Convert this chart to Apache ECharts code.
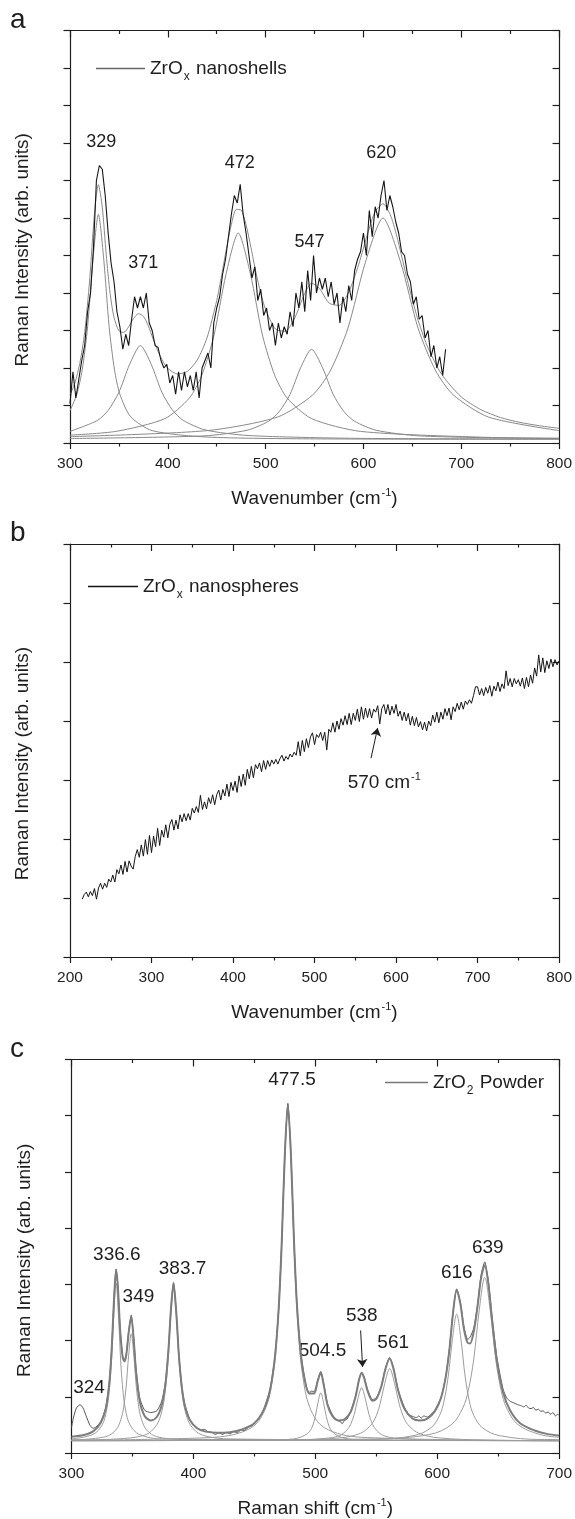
<!DOCTYPE html>
<html><head><meta charset="utf-8">
<script src="https://cdn.jsdelivr.net/npm/echarts@6/dist/echarts.min.js"></script>
<style>html,body{margin:0;padding:0;background:#fff}#chart{width:575px;height:1519px}</style>
</head><body><div id="chart"></div>
<script>
// ---------- Panel a data (wavenumber, intensity in tick units) ----------
const aRaw = [[300,1.05],[303,1.9],[306,1.2],[309,1.7],[312,2.2],[315,2.6],[318,3.5],[321,4.0],[324,5.2],[327,7.0],[330,7.4],[333,7.3],[336,6.6],[339,5.6],[342,4.8],[345,4.3],[348,3.5],[351,3.1],[354,2.5],[357,2.9],[360,2.6],[363,3.3],[366,3.9],[369,3.6],[372,3.9],[375,3.6],[378,4.0],[381,3.2],[384,3.0],[387,2.6],[390,2.55],[393,2.2],[396,2.0],[399,2.1],[402,1.6],[405,1.8],[408,1.3],[411,1.9],[414,1.4],[417,1.9],[420,1.5],[423,1.8],[426,1.4],[429,1.9],[432,1.2],[435,2.0],[438,2.2],[441,2.4],[444,2.0],[447,3.2],[450,3.6],[453,3.9],[456,4.5],[459,4.9],[462,5.5],[465,6.1],[468,6.6],[471,6.4],[474,6.9],[477,6.1],[480,5.6],[483,5.0],[486,4.4],[489,4.7],[492,3.8],[495,4.1],[498,3.4],[501,3.6],[504,3.0],[507,3.2],[510,2.6],[513,3.2],[516,2.8],[519,3.1],[522,2.9],[525,3.5],[528,3.1],[531,4.0],[534,3.6],[537,4.3],[540,3.5],[543,4.6],[546,3.8],[549,5.0],[552,4.0],[555,4.4],[558,4.1],[561,4.4],[564,3.9],[567,4.3],[570,3.7],[573,4.0],[576,3.2],[579,3.9],[582,3.5],[585,4.2],[588,3.8],[591,4.6],[594,4.9],[597,5.1],[600,5.6],[603,5.0],[606,6.2],[609,5.5],[612,6.3],[615,6.0],[618,6.6],[621,7.0],[624,6.2],[627,6.6],[630,6.3],[633,5.9],[636,5.6],[639,5.1],[642,5.0],[645,4.5],[648,4.3],[651,3.7],[654,3.9],[657,3.3],[660,3.4],[663,2.8],[666,3.0],[669,2.3],[672,2.6],[675,2.0],[678,2.3],[681,1.8],[684,2.5]];
const aFit = [[300,1.28],[305,1.6],[310,2.12],[315,2.95],[320,4.32],[325,6.11],[329,6.89],[333,6.29],[337,5.03],[341,3.99],[345,3.35],[350,2.99],[355,2.95],[360,3.1],[365,3.32],[370,3.45],[375,3.38],[380,3.13],[385,2.77],[390,2.44],[395,2.18],[400,1.99],[410,1.84],[420,1.91],[430,2.21],[440,2.8],[450,3.8],[455,4.47],[460,5.19],[465,5.83],[470,6.23],[475,6.21],[480,5.82],[485,5.21],[490,4.56],[495,4.0],[500,3.56],[510,3.04],[520,2.98],[530,3.35],[540,3.99],[547,4.26],[555,4.12],[565,3.73],[575,3.67],[585,4.03],[595,4.75],[605,5.65],[612,6.17],[620,6.38],[628,6.05],[635,5.42],[645,4.33],[655,3.35],[665,2.6],[680,1.83],[700,1.23],[720,0.89],[740,0.68],[760,0.55],[780,0.46],[800,0.39]];
const aPeak329 = [[300,0.86],[307,1.3],[312.5,1.95],[318,3.1],[323.5,4.9],[329,6.1],[334.5,4.9],[340,3.1],[345.5,1.95],[351,1.3],[362,0.7],[384,0.33],[439,0.16],[550,0.11],[800,0.1]];
const aPeak371 = [[300,0.31],[328,0.6],[339,0.87],[350,1.35],[361,2.1],[372,2.6],[383,2.1],[394,1.35],[405,0.87],[416,0.6],[438,0.35],[482,0.2],[592,0.125],[800,0.107]];
const aPeak472 = [[300,0.21],[347,0.31],[397,0.65],[422,1.2],[434.5,1.79],[447,2.85],[459.5,4.5],[472,5.6],[484.5,4.5],[497,2.85],[509.5,1.79],[522,1.2],[547,0.65],[597,0.31],[722,0.154],[800,0.13]];
const aPeak547 = [[300,0.12],[437,0.19],[481,0.34],[503,0.58],[514,0.84],[525,1.3],[536,2.02],[547,2.5],[558,2.02],[569,1.3],[580,0.84],[591,0.58],[613,0.34],[657,0.19],[767,0.124],[800,0.118]];
const aPeak620 = [[300,0.17],[440,0.33],[512,0.69],[548,1.28],[566,1.92],[584,3.05],[602,4.82],[620,6.0],[638,4.82],[656,3.05],[674,1.92],[692,1.28],[728,0.69],[800,0.33]];
const aPeakLabels = ['329','371','472','547','620'];

// ---------- Panel b data ----------
const bRaw = [[215,0.98],[217.5,1.06],[220,1.10],[222.5,1.02],[225,1.11],[227.5,1.04],[230,1.16],[232.5,0.98],[235,1.17],[237.5,1.25],[240,1.15],[242.5,1.25],[245,1.18],[247.5,1.32],[250,1.27],[252.5,1.39],[255,1.27],[257.5,1.48],[260,1.41],[262.5,1.56],[265,1.40],[267.5,1.62],[270,1.44],[272.5,1.63],[275,1.54],[277.5,1.49],[280,1.70],[282.5,1.82],[285,1.69],[287.5,1.90],[290,1.71],[292.5,1.99],[295,1.74],[297.5,2.06],[300,1.77],[302.5,2.05],[305,1.87],[307.5,2.18],[310,1.89],[312.5,2.15],[315,2.03],[317.5,2.24],[320,2.02],[322.5,2.25],[325,2.33],[327.5,2.15],[330,2.32],[332.5,2.17],[335,2.41],[337.5,2.29],[340,2.43],[342.5,2.31],[345,2.43],[347.5,2.32],[350,2.52],[352.5,2.44],[355,2.55],[357.5,2.45],[360,2.74],[362.5,2.50],[365,2.63],[367.5,2.51],[370,2.70],[372.5,2.60],[375,2.75],[377.5,2.58],[380,2.75],[382.5,2.83],[385,2.66],[387.5,2.84],[390,2.73],[392.5,2.93],[395,2.72],[397.5,2.96],[400,2.82],[402.5,2.98],[405,2.79],[407.5,3.07],[410,2.89],[412.5,3.10],[415,2.91],[417.5,3.18],[420,3.02],[422.5,3.23],[425,3.04],[427.5,3.26],[430,3.19],[432.5,3.29],[435,3.14],[437.5,3.33],[440,3.18],[442.5,3.33],[445,3.23],[447.5,3.34],[450,3.27],[452.5,3.35],[455,3.27],[457.5,3.36],[460,3.42],[462.5,3.32],[465,3.40],[467.5,3.35],[470,3.44],[472.5,3.39],[475,3.47],[477.5,3.42],[480,3.65],[482.5,3.41],[485,3.67],[487.5,3.48],[490,3.70],[492.5,3.55],[495,3.73],[497.5,3.80],[500,3.60],[502.5,3.77],[505,3.72],[507.5,3.81],[510,3.67],[512.5,3.81],[515,3.51],[517.5,3.86],[520,3.81],[522.5,3.97],[525,3.81],[527.5,4.00],[530,3.86],[532.5,4.04],[535,3.93],[537.5,4.09],[540,3.94],[542.5,4.13],[545,3.94],[547.5,4.13],[550,4.01],[552.5,4.20],[555,3.99],[557.5,4.24],[560,4.03],[562.5,4.22],[565,4.06],[567.5,4.21],[570,4.05],[572.5,4.20],[575,4.15],[577.5,4.26],[580,3.95],[582.5,4.21],[585,4.28],[587.5,4.12],[590,4.28],[592.5,4.10],[595,4.25],[597.5,4.13],[600,4.28],[602.5,4.08],[605,4.17],[607.5,4.01],[610,4.15],[612.5,4.00],[615,4.13],[617.5,3.93],[620,4.08],[622.5,3.92],[625,4.06],[627.5,3.90],[630,3.99],[632.5,3.85],[635,3.98],[637.5,3.83],[640,4.00],[642.5,3.92],[645,4.10],[647.5,3.98],[650,4.15],[652.5,3.97],[655,4.15],[657.5,4.03],[660,4.21],[662.5,4.09],[665,4.22],[667.5,4.02],[670,4.24],[672.5,4.16],[675,4.30],[677.5,4.19],[680,4.32],[682.5,4.20],[685,4.34],[687.5,4.28],[690,4.36],[692.5,4.30],[695,4.43],[697.5,4.58],[700,4.58],[702.5,4.44],[705,4.55],[707.5,4.43],[710,4.57],[712.5,4.47],[715,4.60],[717.5,4.42],[720,4.59],[722.5,4.51],[725,4.66],[727.5,4.50],[730,4.63],[732.5,4.55],[735,4.85],[737.5,4.60],[740,4.72],[742.5,4.58],[745,4.72],[747.5,4.63],[750,4.70],[752.5,4.59],[755,4.73],[757.5,4.55],[760,4.74],[762.5,4.58],[765,4.78],[767.5,4.64],[770,4.90],[772.5,4.76],[775,5.12],[777.5,4.83],[780,5.07],[782.5,4.82],[785,5.02],[787.5,4.89],[790,5.05],[792.5,4.92],[795,5.04],[797.5,4.95],[800,5.02]];

// ---------- Panel c data ----------
const cRaw = [[300,0.45],[301.5,0.62],[304,0.80],[307,0.86],[309.5,0.80],[312,0.66],[315,0.50],[317.5,0.44],[320,0.46],[324,0.56],[328,0.80],[331,1.26],[333,1.88],[335,2.80],[336.6,3.27],[338,2.98],[340,2.17],[342,1.72],[343.5,1.66],[345,1.78],[347,2.18],[349,2.45],[351,2.05],[353,1.48],[356,0.98],[360,0.76],[365,0.72],[370,0.75],[374,0.92],[377,1.25],[379.5,1.84],[381.5,2.55],[383.7,3.03],[386,2.50],[388,1.79],[390.5,1.19],[393,0.86],[397,0.60],[400,0.50],[403,0.45],[406,0.41],[409,0.42],[412,0.38],[415,0.37],[418,0.33],[421,0.36],[424,0.33],[427,0.37],[430,0.34],[433,0.38],[436,0.36],[439,0.41],[442,0.40],[445,0.46],[448,0.48],[451,0.55],[454,0.62],[458,0.80],[463,1.15],[467,1.74],[470,2.60],[472.5,3.78],[475,5.33],[477.5,6.22],[480,5.34],[482.5,3.80],[485,2.63],[488,1.80],[491,1.36],[493,1.16],[495,1.08],[497,1.10],[499,1.09],[502,1.30],[504.5,1.45],[507,1.22],[510,0.88],[514,0.68],[517,0.60],[519,0.57],[521,0.55],[522,0.52],[524,0.58],[526,0.60],[529,0.74],[533,1.01],[536,1.32],[538,1.44],[540,1.36],[543,1.12],[547,0.95],[550,0.98],[554,1.18],[557.5,1.50],[561,1.70],[564,1.53],[568,1.12],[573,0.82],[577,0.68],[580,0.65],[583,0.63],[585,0.66],[587,0.62],[589,0.66],[592,0.64],[595,0.69],[598,0.76],[603,0.98],[607,1.36],[610,1.85],[613,2.50],[616,2.92],[619,2.68],[622,2.24],[625,2.02],[627,2.06],[630,2.22],[633,2.62],[636,3.16],[639,3.40],[642,3.06],[645,2.42],[649,1.70],[654,1.14],[657,0.98],[660,0.92],[663,0.89],[666,0.86],[669,0.84],[671,0.82],[673,0.85],[675,0.80],[677,0.79],[679,0.81],[681,0.76],[683,0.78],[685,0.74],[687,0.75],[689,0.71],[691,0.73],[693,0.69],[695,0.72],[697,0.66],[699,0.69],[700,0.67]];
const cFit = [[300,0.29],[310,0.32],[318,0.39],[324,0.54],[328,0.78],[331,1.24],[333,1.86],[335,2.79],[336.6,3.26],[338,2.97],[340,2.16],[342,1.70],[343.5,1.63],[345,1.75],[347,2.16],[349,2.43],[351,2.02],[353,1.44],[356,0.92],[360,0.66],[365,0.58],[370,0.64],[374,0.85],[377,1.21],[379.5,1.82],[381.5,2.53],[383.7,3.02],[386,2.49],[388,1.77],[390.5,1.17],[393,0.84],[397,0.59],[403,0.44],[410,0.38],[420,0.36],[430,0.37],[440,0.42],[450,0.53],[458,0.78],[463,1.13],[467,1.73],[470,2.58],[472.5,3.76],[475,5.31],[477.5,6.19],[480,5.32],[482.5,3.79],[485,2.62],[488,1.79],[491,1.34],[495,1.06],[499,1.06],[502,1.28],[504.5,1.43],[507,1.20],[510,0.86],[514,0.66],[519,0.58],[524,0.60],[529,0.73],[533,1.00],[536,1.31],[538,1.42],[540,1.34],[543,1.10],[547,0.93],[550,0.96],[554,1.17],[557.5,1.49],[561,1.68],[564,1.51],[568,1.11],[573,0.79],[580,0.61],[586,0.58],[592,0.61],[598,0.74],[603,0.97],[607,1.35],[610,1.83],[613,2.49],[616,2.90],[619,2.66],[622,2.20],[625,1.96],[627,1.95],[630,2.16],[633,2.59],[636,3.11],[639,3.34],[642,3.01],[645,2.38],[649,1.64],[654,1.08],[660,0.75],[668,0.53],[680,0.40],[690,0.34],[700,0.31]];
const cPeak336 = [[300,0.25],[317.6,0.33],[325.2,0.5],[329,0.78],[330.9,1.08],[332.8,1.62],[334.7,2.46],[336.6,3.02],[338.5,2.46],[340.4,1.62],[342.3,1.08],[344.2,0.78],[348,0.5],[355.6,0.33],[374.6,0.25],[700,0.22]];
const cPeak349 = [[300,0.23],[328,0.29],[336.4,0.41],[340.6,0.6],[342.7,0.8],[344.8,1.17],[346.9,1.74],[349,2.12],[351.1,1.74],[353.2,1.17],[355.3,0.8],[357.4,0.6],[361.6,0.41],[370,0.29],[391,0.24],[700,0.22]];
const cPeak383 = [[300,0.23],[336.7,0.25],[360.2,0.32],[369.6,0.49],[374.3,0.76],[376.65,1.06],[379,1.58],[381.35,2.4],[383.7,2.94],[386.05,2.4],[388.4,1.58],[390.75,1.06],[393.1,0.76],[397.8,0.49],[407.2,0.32],[430.7,0.25],[700,0.22]];
const cPeak477 = [[300,0.23],[417.5,0.28],[447.5,0.45],[459.5,0.81],[465.5,1.4],[468.5,2.04],[471.5,3.17],[474.5,4.94],[477.5,6.12],[480.5,4.94],[483.5,3.17],[486.5,2.04],[489.5,1.4],[495.5,0.81],[507.5,0.45],[537.5,0.28],[700,0.22]];
const cPeak504 = [[300,0.22],[459.5,0.23],[482,0.25],[491,0.31],[495.5,0.39],[497.75,0.48],[500,0.65],[502.25,0.9],[504.5,1.07],[506.75,0.9],[509,0.65],[511.25,0.48],[513.5,0.39],[518,0.31],[527,0.25],[549.5,0.23],[700,0.22]];
const cPeak538 = [[300,0.22],[478,0.23],[508,0.26],[520,0.31],[526,0.41],[529,0.51],[532,0.69],[535,0.97],[538,1.16],[541,0.97],[544,0.69],[547,0.51],[550,0.41],[556,0.31],[568,0.26],[598,0.23],[700,0.22]];
const cPeak561 = [[300,0.22],[481,0.23],[521,0.27],[537,0.35],[545,0.48],[549,0.61],[553,0.86],[557,1.24],[561,1.5],[565,1.24],[569,0.86],[573,0.61],[577,0.48],[585,0.35],[601,0.27],[641,0.23],[700,0.22]];
const cPeak616 = [[300,0.22],[546,0.24],[581,0.31],[595,0.45],[602,0.67],[605.5,0.91],[609,1.35],[612.5,2.02],[616,2.47],[619.5,2.02],[623,1.35],[626.5,0.91],[630,0.67],[637,0.45],[651,0.31],[686,0.24],[700,0.24]];
const cPeak639 = [[300,0.22],[549,0.25],[594,0.33],[612,0.51],[621,0.8],[625.5,1.11],[630,1.67],[634.5,2.54],[639,3.12],[643.5,2.54],[648,1.67],[652.5,1.11],[657,0.8],[666,0.51],[684,0.33],[700,0.28]];
const cPeakLabels = ['324','336.6','349','383.7','477.5','504.5','538','561','616','639'];

// ---------- Styling / layout ----------
const FF = "'Liberation Sans', Arial, Helvetica, sans-serif";
const INK = '#1e1e1e';
const rich = {
  n: {fontSize: 19, fontFamily: FF, color: INK, lineHeight: 22},
  sup: {fontSize: 11, fontFamily: FF, color: INK, verticalAlign: 'top', padding: [0, 0, 12, 1]},
  sub: {fontSize: 12, fontFamily: FF, color: INK, verticalAlign: 'bottom', padding: [16, 1, 0, 1]}
};
const lineSt = {color: INK, width: 1.2};

function xPair(g, min, max, name) {
  return [
    {gridIndex: g, type: 'value', min, max, interval: 100, position: 'bottom',
     axisLine: {onZero: false, lineStyle: lineSt},
     axisTick: {inside: false, length: 6, lineStyle: lineSt},
     minorTick: {show: true, splitNumber: 2, length: 3.5, lineStyle: lineSt},
     axisLabel: {color: INK, fontSize: 15.5, fontFamily: FF, margin: 13},
     splitLine: {show: false}, minorSplitLine: {show: false},
     name, nameLocation: 'middle', nameGap: 44, nameTextStyle: {rich}},
    {gridIndex: g, type: 'value', min, max, interval: 100, position: 'top',
     axisLine: {onZero: false, lineStyle: lineSt},
     axisTick: {inside: true, length: 7, lineStyle: lineSt},
     minorTick: {show: true, splitNumber: 2, length: 3.5, lineStyle: lineSt},
     axisLabel: {show: false}, splitLine: {show: false}}
  ];
}
function yPair(g, max, shift) {
  return [
    {gridIndex: g, type: 'value', min: 0, max, interval: 1, position: 'left',
     axisLine: {onZero: false, lineStyle: lineSt},
     axisTick: {inside: false, length: 6.5, lineStyle: lineSt},
     axisLabel: {show: false}, splitLine: {show: false},
     name: '{n|Raman Intensity (arb. units)}', nameLocation: 'middle', nameGap: 36, nameRotate: 90,
     nameTextStyle: {rich, padding: [0, shift, 0, 0]}},
    {gridIndex: g, type: 'value', min: 0, max, interval: 1, position: 'right',
     axisLine: {onZero: false, lineStyle: lineSt},
     axisTick: {inside: true, length: 6.5, lineStyle: lineSt},
     axisLabel: {show: false}, splitLine: {show: false}}
  ];
}
function curve(name, data, xi, color, width, smooth) {
  return {type: 'line', name, data, xAxisIndex: xi, yAxisIndex: xi, showSymbol: false, symbol: 'none',
    smooth, lineStyle: {color, width}, itemStyle: {color}, silent: true, animation: false};
}
function labels(xi, items, fontSize, extra) {
  return Object.assign({type: 'scatter', xAxisIndex: xi, yAxisIndex: xi, symbolSize: 0, silent: true,
    itemStyle: {color: INK, opacity: 1}, animation: false,
    label: {show: true, position: [0, 0], align: 'center', verticalAlign: 'middle', formatter: '{b}',
      color: INK, fontSize, fontFamily: FF, textBorderWidth: 0, rich},
    data: items}, extra || {});
}
function arrow(from, to) {
  return {silent: true, symbol: ['none', 'arrow'], symbolSize: 8, animation: false,
    lineStyle: {color: INK, width: 1, type: 'solid'}, label: {show: false},
    data: [[{coord: from}, {coord: to}]]};
}

const fitGrey = '#8a8a8a';
const compGrey = '#9c9c9c';

const option = {
  backgroundColor: '#fff',
  animation: false,
  grid: [
    {left: 70, top: 30.5, width: 490, height: 412.5},
    {left: 70, top: 544, width: 490, height: 413},
    {left: 71.5, top: 1059.5, width: 490, height: 397}
  ],
  xAxis: [].concat(
    xPair(0, 300, 800, '{n|Wavenumber (cm}{sup|-1}{n|)}'),
    xPair(1, 200, 800, '{n|Wavenumber (cm}{sup|-1}{n|)}'),
    xPair(2, 300, 700, '{n|Raman shift (cm}{sup|-1}{n|)}')),
  yAxis: [].concat(yPair(0, 11, 26), yPair(1, 7, 26), yPair(2, 7, 8)),
  legend: [
    {data: ['ZrOx nanoshells'], left: 96, top: 59, padding: 0, icon: 'rect', itemWidth: 49, itemHeight: 1.3,
     selectedMode: false, itemStyle: {color: '#666'}, textStyle: {rich},
     formatter: () => '{n|ZrO}{sub|x}{n| nanoshells}'},
    {data: ['ZrOx nanospheres'], left: 88, top: 577, padding: 0, icon: 'rect', itemWidth: 50, itemHeight: 1.3,
     selectedMode: false, itemStyle: {color: '#111'}, textStyle: {rich},
     formatter: () => '{n|ZrO}{sub|x}{n| nanospheres}'},
    {data: ['ZrO2 Powder'], left: 385, top: 1073, padding: 0, icon: 'rect', itemWidth: 43, itemHeight: 1.3,
     selectedMode: false, itemStyle: {color: '#777'}, textStyle: {rich},
     formatter: () => '{n|ZrO}{sub|2}{n| Powder}'}
  ],
  graphic: [
    {type: 'text', x: 10, y: 20.3, style: {text: 'a', fontSize: 28, fontFamily: FF, fill: INK, verticalAlign: 'middle'}},
    {type: 'text', x: 10, y: 533.3, style: {text: 'b', fontSize: 28, fontFamily: FF, fill: INK, verticalAlign: 'middle'}},
    {type: 'text', x: 10, y: 1049.3, style: {text: 'c', fontSize: 28, fontFamily: FF, fill: INK, verticalAlign: 'middle'}}
  ],
  series: [
    // panel a
    curve('a329', aPeak329, 0, fitGrey, 1, 0.25),
    curve('a371', aPeak371, 0, fitGrey, 1, 0.25),
    curve('a472', aPeak472, 0, fitGrey, 1, 0.25),
    curve('a547', aPeak547, 0, fitGrey, 1, 0.25),
    curve('a620', aPeak620, 0, fitGrey, 1, 0.25),
    curve('aFit', aFit, 0, fitGrey, 1, 0.25),
    curve('ZrOx nanoshells', aRaw, 0, '#151515', 1.1, false),
    labels(0, [
      {name: aPeakLabels[0], value: [332, 8.02]},
      {name: aPeakLabels[1], value: [374.8, 4.8]},
      {name: aPeakLabels[2], value: [473.5, 7.47]},
      {name: aPeakLabels[3], value: [544.9, 5.35]},
      {name: aPeakLabels[4], value: [618.1, 7.73]}
    ], 18),
    // panel b
    curve('ZrOx nanospheres', bRaw, 2, '#151515', 1, false),
    labels(2, [{name: '570', value: [585.5, 2.95]}], 19, {
      label: {show: true, position: [0, 0], align: 'center', verticalAlign: 'middle',
        formatter: '{n|570 cm}{sup|-1}', textBorderWidth: 0, rich},
      markLine: arrow([569.3, 3.37], [577.4, 3.88])
    }),
    // panel c
    curve('c336', cPeak336, 4, compGrey, 1, 0.35),
    curve('c349', cPeak349, 4, compGrey, 1, 0.35),
    curve('c383', cPeak383, 4, compGrey, 1, 0.35),
    curve('c477', cPeak477, 4, compGrey, 1, 0.35),
    curve('c504', cPeak504, 4, compGrey, 1, 0.35),
    curve('c538', cPeak538, 4, compGrey, 1, 0.35),
    curve('c561', cPeak561, 4, compGrey, 1, 0.35),
    curve('c616', cPeak616, 4, compGrey, 1, 0.35),
    curve('c639', cPeak639, 4, compGrey, 1, 0.35),
    curve('ZrO2 Powder', cRaw, 4, '#555', 1, 0.2),
    curve('cFit', cFit, 4, '#7d7d7d', 2, 0.3),
    labels(4, [
      {name: cPeakLabels[0], value: [314.4, 1.16]},
      {name: cPeakLabels[1], value: [337.2, 3.53]},
      {name: cPeakLabels[2], value: [354.9, 2.78]},
      {name: cPeakLabels[3], value: [391.1, 3.28]},
      {name: cPeakLabels[4], value: [480.9, 6.64]},
      {name: cPeakLabels[5], value: [505.9, 1.81]},
      {name: cPeakLabels[6], value: [538.1, 2.44]},
      {name: cPeakLabels[7], value: [563.9, 1.96]},
      {name: cPeakLabels[8], value: [616.1, 3.2]},
      {name: cPeakLabels[9], value: [641.5, 3.65]}
    ], 19, {markLine: arrow([537.2, 2.18], [538.8, 1.53])})
  ]
};
const chart = echarts.init(document.getElementById('chart'), null, {renderer: 'canvas'});
chart.setOption(option);
</script></body></html>
